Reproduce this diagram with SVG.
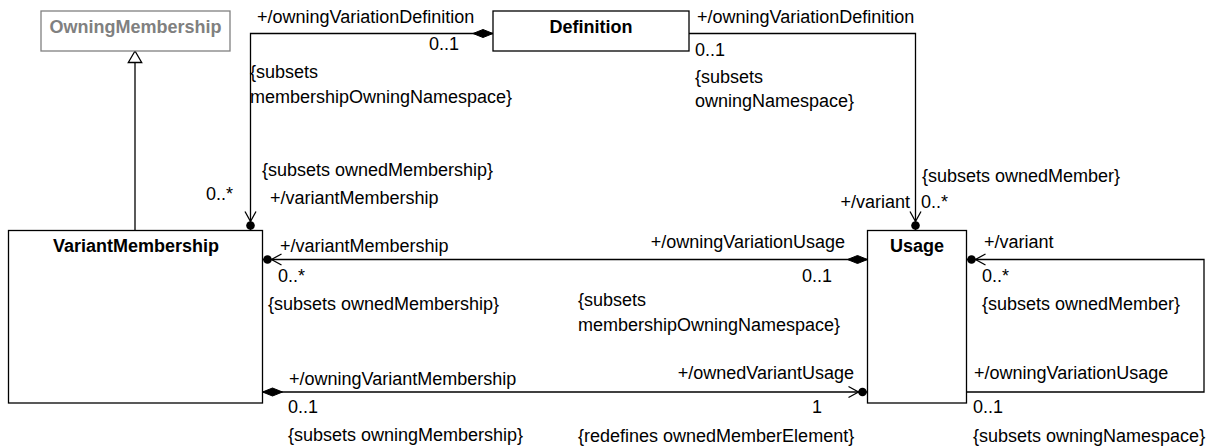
<svg xmlns="http://www.w3.org/2000/svg" width="1213" height="447" viewBox="0 0 1213 447">
<style>
  text { font-family: "Liberation Sans", Arial, sans-serif; font-size: 18px; fill: #000; }
  .title { font-weight: bold; text-anchor: middle; }
  .gray { fill: #808080; }
  .end { text-anchor: end; }
  .box { fill: #fff; stroke: #000; stroke-width: 1.3; }
  .graybox { fill: #fff; stroke: #808080; stroke-width: 1.3; }
  .conn { fill: none; stroke: #000; stroke-width: 1.3; }
</style>
<defs>
  <marker id="diamond" markerUnits="userSpaceOnUse" orient="auto" refX="0" refY="0" viewBox="-1 -6 23 12" markerWidth="23" markerHeight="12">
    <path d="M0,0 L10,-4 L20,0 L10,4 Z" fill="#000" stroke="#000" stroke-width="1"/>
  </marker>
  <marker id="dotArrow" markerUnits="userSpaceOnUse" orient="auto" refX="0" refY="0" viewBox="-22 -8 24 16" markerWidth="24" markerHeight="16">
    <circle cx="-5" cy="0" r="4.3" fill="#000"/>
    <path d="M-19,-5.5 L-9,0 L-19,5.5" fill="none" stroke="#000" stroke-width="1.3"/>
  </marker>
  <marker id="triangle" markerUnits="userSpaceOnUse" orient="auto" refX="0" refY="0" viewBox="-14 -8 16 16" markerWidth="16" markerHeight="16">
    <path d="M0,0 L-11.5,-6.7 L-11.5,6.7 Z" fill="#fff" stroke="#000" stroke-width="1.3"/>
  </marker>
</defs>

<g id="connectors">
  <path class="conn" d="M135,230.5 V51" marker-end="url(#triangle)"/>
  <path class="conn" d="M493,33.5 H250.5 V230.5" marker-start="url(#diamond)" marker-end="url(#dotArrow)"/>
  <path class="conn" d="M689,33.5 H915.5 V230.5" marker-end="url(#dotArrow)"/>
  <path class="conn" d="M867.5,259.5 H262.5" marker-start="url(#diamond)" marker-end="url(#dotArrow)"/>
  <path class="conn" d="M262.5,392 H867.5" marker-start="url(#diamond)" marker-end="url(#dotArrow)"/>
  <path class="conn" d="M966.5,392 H1204 V259.5 H966.5" marker-end="url(#dotArrow)"/>

  <text x="257" y="23">+/owningVariationDefinition</text>
  <text x="459" y="50" class="end">0..1</text>
  <text x="250" y="78">{subsets</text>
  <text x="250" y="103">membershipOwningNamespace}</text>
  <text x="262" y="176">{subsets ownedMembership}</text>
  <text x="233" y="199.5" class="end">0..*</text>
  <text x="270" y="203.5">+/variantMembership</text>

  <text x="697" y="23">+/owningVariationDefinition</text>
  <text x="695" y="56">0..1</text>
  <text x="695" y="83">{subsets</text>
  <text x="695" y="107">owningNamespace}</text>
  <text x="922" y="182">{subsets ownedMember}</text>
  <text x="910" y="207.5" class="end">+/variant</text>
  <text x="921" y="207.5">0..*</text>

  <text x="280" y="252">+/variantMembership</text>
  <text x="278" y="282">0..*</text>
  <text x="268" y="310">{subsets ownedMembership}</text>
  <text x="845" y="248" class="end">+/owningVariationUsage</text>
  <text x="832" y="282" class="end">0..1</text>
  <text x="578" y="306">{subsets</text>
  <text x="578" y="331">membershipOwningNamespace}</text>

  <text x="289" y="385">+/owningVariantMembership</text>
  <text x="288" y="413">0..1</text>
  <text x="288" y="441">{subsets owningMembership}</text>
  <text x="854" y="379" class="end">+/ownedVariantUsage</text>
  <text x="822" y="413" class="end">1</text>
  <text x="578" y="442">{redefines ownedMemberElement}</text>

  <text x="984" y="248">+/variant</text>
  <text x="982" y="282">0..*</text>
  <text x="982" y="310">{subsets ownedMember}</text>
  <text x="974" y="379">+/owningVariationUsage</text>
  <text x="973" y="413">0..1</text>
  <text x="973" y="442">{subsets owningNamespace}</text>
</g>

<g id="OwningMembership">
  <rect class="graybox" x="41" y="11" width="189" height="40"/>
  <text class="title gray" x="135.5" y="33">OwningMembership</text>
</g>
<g id="Definition">
  <rect class="box" x="493" y="11" width="196" height="40"/>
  <text class="title" x="591" y="33">Definition</text>
</g>
<g id="VariantMembership">
  <rect class="box" x="8.5" y="230.5" width="254" height="172.5"/>
  <text class="title" x="136" y="252">VariantMembership</text>
</g>
<g id="Usage">
  <rect class="box" x="867.5" y="230.5" width="99" height="172.5"/>
  <text class="title" x="917" y="251.5">Usage</text>
</g>
</svg>
